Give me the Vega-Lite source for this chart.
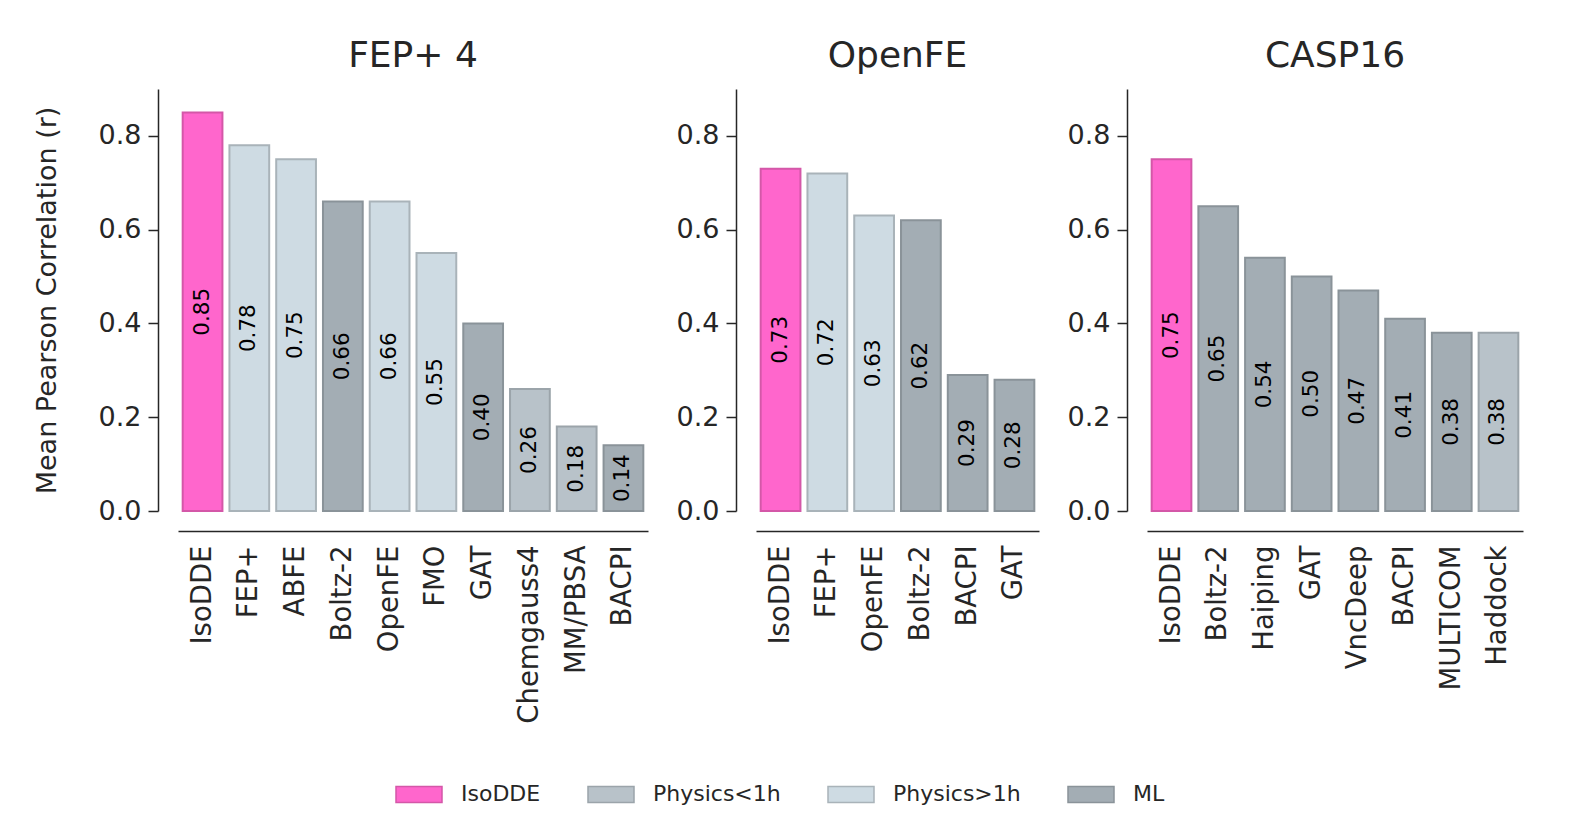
{
  "$schema": "https://vega.github.io/schema/vega-lite/v6.json",
  "padding": {"left": 33, "top": 38, "right": 10, "bottom": 5},
  "background": "white",
  "config": {
    "font": "DejaVu Sans",
    "view": {"stroke": null},
    "axis": {"labelColor": "#262626", "titleColor": "#262626", "domainColor": "#262626", "tickColor": "#262626", "grid": false, "domainWidth": 1.5, "tickWidth": 1.5},
    "title": {"fontSize": 36, "fontWeight": "normal", "color": "#262626", "offset": 14}
  },
  "datasets": {
    "bars": [
      {"benchmark": "FEP+ 4", "method": "IsoDDE", "category": "IsoDDE", "r": 0.85},
      {"benchmark": "FEP+ 4", "method": "FEP+", "category": "Physics>1h", "r": 0.78},
      {"benchmark": "FEP+ 4", "method": "ABFE", "category": "Physics>1h", "r": 0.75},
      {"benchmark": "FEP+ 4", "method": "Boltz-2", "category": "ML", "r": 0.66},
      {"benchmark": "FEP+ 4", "method": "OpenFE", "category": "Physics>1h", "r": 0.66},
      {"benchmark": "FEP+ 4", "method": "FMO", "category": "Physics>1h", "r": 0.55},
      {"benchmark": "FEP+ 4", "method": "GAT", "category": "ML", "r": 0.40},
      {"benchmark": "FEP+ 4", "method": "Chemgauss4", "category": "Physics<1h", "r": 0.26},
      {"benchmark": "FEP+ 4", "method": "MM/PBSA", "category": "Physics<1h", "r": 0.18},
      {"benchmark": "FEP+ 4", "method": "BACPI", "category": "ML", "r": 0.14},
      {"benchmark": "OpenFE", "method": "IsoDDE", "category": "IsoDDE", "r": 0.73},
      {"benchmark": "OpenFE", "method": "FEP+", "category": "Physics>1h", "r": 0.72},
      {"benchmark": "OpenFE", "method": "OpenFE", "category": "Physics>1h", "r": 0.63},
      {"benchmark": "OpenFE", "method": "Boltz-2", "category": "ML", "r": 0.62},
      {"benchmark": "OpenFE", "method": "BACPI", "category": "ML", "r": 0.29},
      {"benchmark": "OpenFE", "method": "GAT", "category": "ML", "r": 0.28},
      {"benchmark": "CASP16", "method": "IsoDDE", "category": "IsoDDE", "r": 0.75},
      {"benchmark": "CASP16", "method": "Boltz-2", "category": "ML", "r": 0.65},
      {"benchmark": "CASP16", "method": "Haiping", "category": "ML", "r": 0.54},
      {"benchmark": "CASP16", "method": "GAT", "category": "ML", "r": 0.50},
      {"benchmark": "CASP16", "method": "VncDeep", "category": "ML", "r": 0.47},
      {"benchmark": "CASP16", "method": "BACPI", "category": "ML", "r": 0.41},
      {"benchmark": "CASP16", "method": "MULTICOM", "category": "ML", "r": 0.38},
      {"benchmark": "CASP16", "method": "Haddock", "category": "Physics<1h", "r": 0.38}
    ]
  },
  "data": {"name": "bars"},
  "spacing": 28,
  "resolve": {"scale": {"x": "independent", "y": "independent", "fill": "shared", "stroke": "shared"}},
  "hconcat": [
    {
      "title": "FEP+ 4",
      "width": 470,
      "height": 422,
      "transform": [{"filter": "datum.benchmark === 'FEP+ 4'"}],
      "resolve": {"scale": {"y": "independent"}},
      "layer": [
        {
          "mark": {"type": "bar", "stroke": "#111111", "strokeWidth": 1.5, "opacity": 0},
          "encoding": {
            "x": {"field": "method", "type": "nominal", "sort": null, "scale": {"paddingInner": 0.15, "paddingOuter": 0.1},
                  "axis": {"title": null, "labelAngle": -90, "labelFontSize": 27.5, "ticks": false, "labelPadding": 14, "offset": 20}},
            "y": {"field": "r", "type": "quantitative", "scale": {"domain": [0, 0.9], "nice": false},
                  "axis": {"title": "Mean Pearson Correlation (r)", "titleFontSize": 27, "titleFontWeight": "normal", "titlePadding": 37, "values": [0, 0.2, 0.4, 0.6, 0.8], "format": ".1f", "labelFontSize": 27, "tickSize": 10, "labelPadding": 7, "offset": 20}},
            "fill": {"field": "category", "type": "nominal",
                     "scale": {"domain": ["IsoDDE", "Physics<1h", "Physics>1h", "ML"], "range": ["#ff66cc", "#b8c2c9", "#cedbe3", "#a3adb4"]},
                     "legend": {"title": null, "orient": "none", "direction": "horizontal", "legendX": 217, "legendY": 681,
                                "symbolType": "M-1,-0.35H1V0.35H-1Z", "symbolSize": 2116, "symbolStrokeWidth": 1.5, "symbolOpacity": 1,
                                "labelFontSize": 22, "labelColor": "#262626", "columnPadding": 44, "labelOffset": 18, "padding": 0}}
          }
        },
        {
          "mark": {"type": "bar", "strokeWidth": 2},
          "encoding": {
            "x": {"field": "method", "type": "nominal", "sort": null},
            "y": {"field": "r", "type": "quantitative", "scale": {"domain": [0, 0.9], "nice": false}, "axis": null},
            "fill": {"field": "category", "type": "nominal"},
            "stroke": {"field": "category", "type": "nominal",
                       "scale": {"domain": ["IsoDDE", "Physics<1h", "Physics>1h", "ML"], "range": ["#d457a8", "#9ba4aa", "#a9b3b9", "#8a9399"]},
                       "legend": null}
          }
        },
        {
          "mark": {"type": "text", "angle": 270, "align": "center", "baseline": "middle", "fontSize": 21.5, "color": "black"},
          "encoding": {
            "x": {"field": "method", "type": "nominal", "sort": null},
            "y": {"field": "r", "type": "quantitative", "scale": {"domain": [0, 1.8], "nice": false}, "axis": null},
            "text": {"field": "r", "type": "quantitative", "format": ".2f"}
          }
        }
      ]
    },
    {
      "title": "OpenFE",
      "width": 283,
      "height": 422,
      "transform": [{"filter": "datum.benchmark === 'OpenFE'"}],
      "resolve": {"scale": {"y": "independent"}},
      "layer": [
        {
          "mark": {"type": "bar", "strokeWidth": 2},
          "encoding": {
            "x": {"field": "method", "type": "nominal", "sort": null, "scale": {"paddingInner": 0.15, "paddingOuter": 0.1},
                  "axis": {"title": null, "labelAngle": -90, "labelFontSize": 27.5, "ticks": false, "labelPadding": 14, "offset": 20}},
            "y": {"field": "r", "type": "quantitative", "scale": {"domain": [0, 0.9], "nice": false},
                  "axis": {"title": null, "values": [0, 0.2, 0.4, 0.6, 0.8], "format": ".1f", "labelFontSize": 27, "tickSize": 10, "labelPadding": 7, "offset": 20}},
            "fill": {"field": "category", "type": "nominal"},
            "stroke": {"field": "category", "type": "nominal", "legend": null}
          }
        },
        {
          "mark": {"type": "text", "angle": 270, "align": "center", "baseline": "middle", "fontSize": 21.5, "color": "black"},
          "encoding": {
            "x": {"field": "method", "type": "nominal", "sort": null},
            "y": {"field": "r", "type": "quantitative", "scale": {"domain": [0, 1.8], "nice": false}, "axis": null},
            "text": {"field": "r", "type": "quantitative", "format": ".2f"}
          }
        }
      ]
    },
    {
      "title": "CASP16",
      "width": 376,
      "height": 422,
      "transform": [{"filter": "datum.benchmark === 'CASP16'"}],
      "resolve": {"scale": {"y": "independent"}},
      "layer": [
        {
          "mark": {"type": "bar", "strokeWidth": 2},
          "encoding": {
            "x": {"field": "method", "type": "nominal", "sort": null, "scale": {"paddingInner": 0.15, "paddingOuter": 0.1},
                  "axis": {"title": null, "labelAngle": -90, "labelFontSize": 27.5, "ticks": false, "labelPadding": 14, "offset": 20}},
            "y": {"field": "r", "type": "quantitative", "scale": {"domain": [0, 0.9], "nice": false},
                  "axis": {"title": null, "values": [0, 0.2, 0.4, 0.6, 0.8], "format": ".1f", "labelFontSize": 27, "tickSize": 10, "labelPadding": 7, "offset": 20}},
            "fill": {"field": "category", "type": "nominal"},
            "stroke": {"field": "category", "type": "nominal", "legend": null}
          }
        },
        {
          "mark": {"type": "text", "angle": 270, "align": "center", "baseline": "middle", "fontSize": 21.5, "color": "black"},
          "encoding": {
            "x": {"field": "method", "type": "nominal", "sort": null},
            "y": {"field": "r", "type": "quantitative", "scale": {"domain": [0, 1.8], "nice": false}, "axis": null},
            "text": {"field": "r", "type": "quantitative", "format": ".2f"}
          }
        }
      ]
    }
  ]
}
